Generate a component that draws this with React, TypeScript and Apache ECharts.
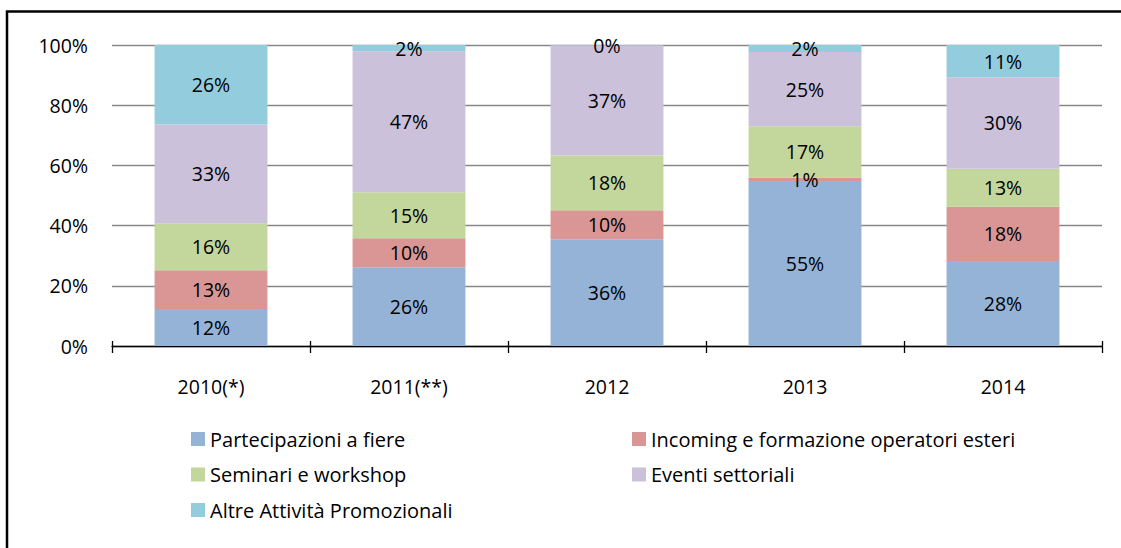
import React, { useEffect, useRef } from "react";
import * as echarts from "echarts";

const categories = ["2010(*)", "2011(**)", "2012", "2013", "2014"];
const seriesNames = [
  "Partecipazioni a fiere",
  "Incoming e formazione operatori esteri",
  "Seminari e workshop",
  "Eventi settoriali",
  "Altre Attività Promozionali",
];
const fiere = [12.3, 26.2, 35.5, 54.8, 28.2];
const incoming = [12.9, 9.6, 9.6, 1.2, 18.1];
const seminari = [15.6, 15.3, 18.2, 17.0, 12.6];
const eventi = [32.8, 46.8, 36.6, 24.7, 30.4];
const altre = [26.4, 2.1, 0.1, 2.3, 10.7];
const colors = ["#95B3D7", "#D99694", "#C3D69B", "#CCC1DA", "#93CDDD"];
const yTicks = [0, 20, 40, 60, 80, 100];

const FONT = "Open Sans";

export default function App() {
  const ref = useRef<HTMLDivElement>(null);
  useEffect(() => {
    if (!ref.current) return;
    const chart = echarts.init(ref.current, null, { renderer: "svg" });
    const values = [fiere, incoming, seminari, eventi, altre];
    const series = values.map((v, i) => ({
      name: seriesNames[i],
      type: "bar",
      stack: "total",
      barWidth: "57%",
      data: v,
      itemStyle: { color: colors[i] },
      label: {
        show: true,
        position: "inside",
        color: "#000",
        fontFamily: FONT,
        fontSize: 19.5,
        formatter: (p: any) => Math.round(p.value) + "%",
      },
      emphasis: { disabled: true },
    }));
    chart.setOption({
      animation: false,
      backgroundColor: "#fff",
      grid: { left: 112, right: 19, top: 45, bottom: 202, containLabel: false },
      xAxis: [
        {
          type: "category",
          data: categories,
          position: "bottom",
          axisLine: { show: true, lineStyle: { color: "#000", width: 1.3 } },
          axisTick: { show: true, length: 7, lineStyle: { color: "#000", width: 1.3 } },
          axisLabel: { color: "#000", fontFamily: FONT, fontSize: 19.5, margin: 30 },
          splitLine: { show: false },
        },
        {
          type: "category",
          data: categories,
          position: "bottom",
          axisLine: { show: false },
          axisTick: { show: true, inside: true, length: 5, lineStyle: { color: "#000", width: 1.3 } },
          axisLabel: { show: false },
          splitLine: { show: false },
        },
      ],
      yAxis: {
        type: "value",
        min: yTicks[0],
        max: yTicks[yTicks.length - 1],
        interval: 20,
        axisLine: { show: false },
        axisTick: { show: false },
        axisLabel: {
          color: "#000",
          fontFamily: FONT,
          fontSize: 19.5,
          margin: 24,
          formatter: "{value}%",
        },
        splitLine: { show: true, lineStyle: { color: "#888", width: 1.3 } },
      },
      legend: [
        {
          data: [seriesNames[0], seriesNames[2], seriesNames[4]],
          orient: "vertical",
          left: 186,
          top: 424,
          itemWidth: 14,
          itemHeight: 14,
          itemGap: 15.5,
          icon: "rect",
          selectedMode: false,
          textStyle: { color: "#000", fontFamily: FONT, fontSize: 20 },
        },
        {
          data: [seriesNames[1], seriesNames[3]],
          orient: "vertical",
          left: 627,
          top: 424,
          itemWidth: 14,
          itemHeight: 14,
          itemGap: 15.5,
          icon: "rect",
          selectedMode: false,
          textStyle: { color: "#000", fontFamily: FONT, fontSize: 20 },
        },
      ],
      graphic: [
        {
          type: "rect",
          shape: { x: 7, y: 11.5, width: 1200, height: 600 },
          style: { fill: "none", stroke: "#000", lineWidth: 2.5 },
          silent: true,
        },
      ],
      series,
    });
    return () => chart.dispose();
  }, []);
  return (
    <div
      ref={ref}
      style={{ position: "fixed", left: 0, top: 0, width: 1121, height: 548 }}
    />
  );
}
